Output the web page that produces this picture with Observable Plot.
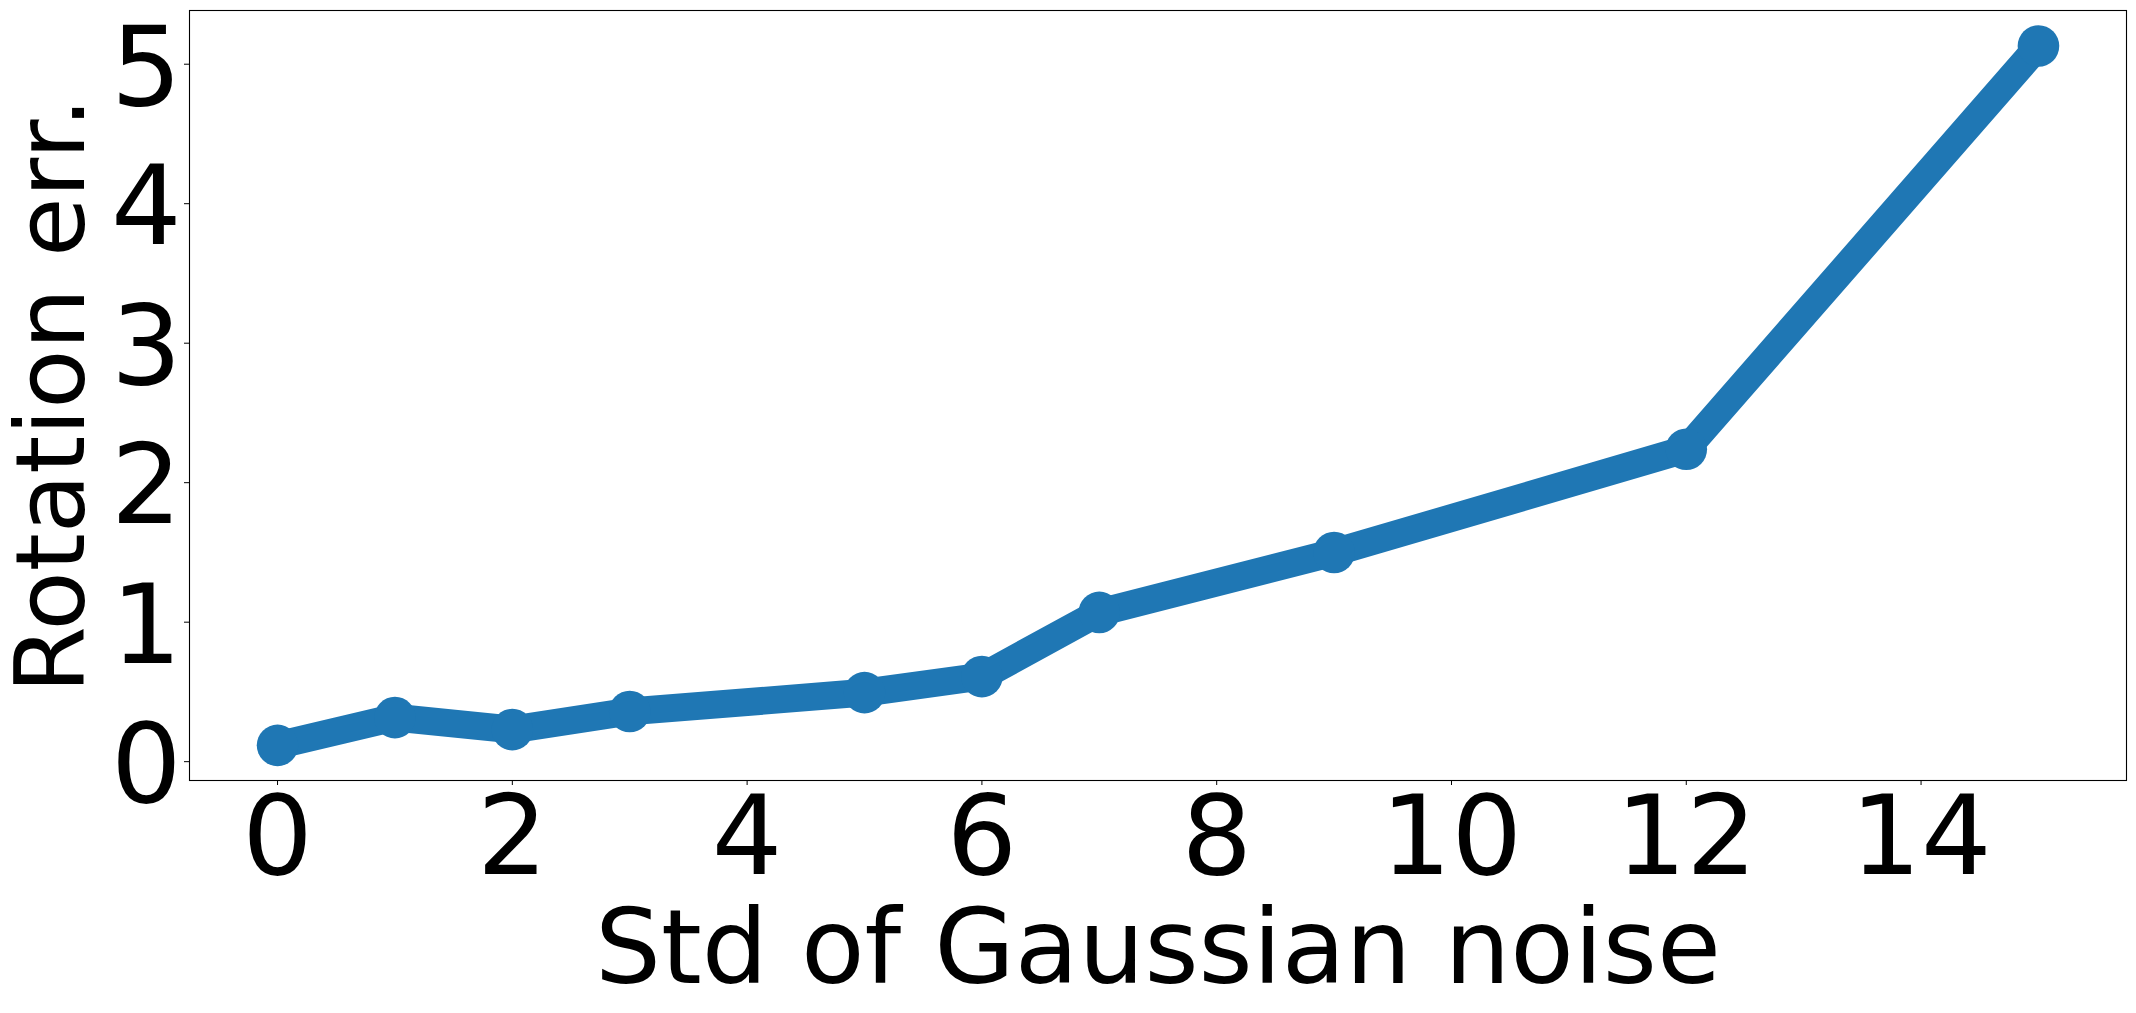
<!DOCTYPE html>
<html>
<head>
<meta charset="utf-8">
<script src="https://cdn.jsdelivr.net/npm/d3@7"></script>
<script src="https://cdn.jsdelivr.net/npm/@observablehq/plot@0.6"></script>
<style>
  html, body { margin: 0; padding: 0; background: #fff; }
  #chart svg { display: block; }
</style>
</head>
<body>
<div id="chart"></div>
<script>
// Data
const noiseStd = [0, 1, 2, 3, 5, 6, 7, 9, 12, 15];
const rotationErr = [0.117, 0.316, 0.23, 0.36, 0.495, 0.61, 1.07, 1.50, 2.24, 5.13];
const xTicks = [0, 2, 4, 6, 8, 10, 12, 14];
const yTicks = [0, 1, 2, 3, 4, 5];
const xLabel = "Std of Gaussian noise";
const yLabel = "Rotation err.";

const data = noiseStd.map((x, i) => ({x, y: rotationErr[i]}));

const FS = 111;
const blue = "#1f77b4";

const chart = Plot.plot({
  width: 2136,
  height: 1013,
  marginLeft: 189,
  marginRight: 10,
  marginTop: 10,
  marginBottom: 233,
  style: {fontFamily: "DejaVu Sans", background: "#fff", color: "#000"},
  x: {domain: [-0.75, 15.75]},
  y: {domain: [-0.135, 5.385]},
  marks: [
    Plot.axisX({ticks: xTicks, tickSize: 5, tickPadding: 10, fontSize: FS, label: null, tickFormat: d => String(d)}),
    Plot.axisY({ticks: yTicks, tickSize: 5, tickFormat: () => "", label: null}),
    Plot.axisY({ticks: yTicks, tickSize: 0, tickPadding: 8, dy: 5, fontSize: FS, label: null, tickFormat: d => String(d)}),
    Plot.line(data, {x: "x", y: "y", stroke: blue, strokeWidth: 27.8, strokeLinejoin: "round", strokeLinecap: "square"}),
    Plot.dot(data, {x: "x", y: "y", r: 20.8, fill: blue, stroke: "none"}),
    Plot.frame({stroke: "#000", strokeWidth: 1.1}),
    Plot.text([xLabel], {text: d => d, frameAnchor: "bottom", textAnchor: "middle", lineAnchor: "bottom", dy: 202, fontSize: 104}),
    Plot.text([yLabel], {text: d => d, frameAnchor: "left", rotate: -90, textAnchor: "middle", lineAnchor: "bottom", dx: -106, fontSize: 97})
  ]
});
document.getElementById("chart").appendChild(chart);
</script>
</body>
</html>
